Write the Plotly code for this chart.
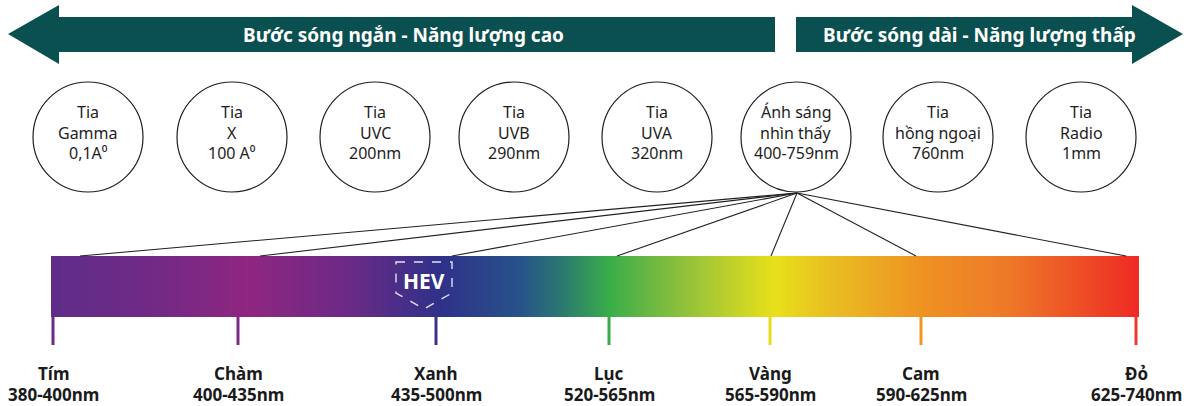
import numpy as np
import plotly.graph_objects as go

# ---------------- data ----------------
arrow_texts = ["Bước sóng ngắn - Năng lượng cao", "Bước sóng dài - Năng lượng thấp"]

ray_line1 = ["Tia", "Tia", "Tia", "Tia", "Tia", "Ánh sáng", "Tia", "Tia"]
ray_line2 = ["Gamma", "X", "UVC", "UVB", "UVA", "nhìn thấy", "hồng ngoại", "Radio"]
ray_line3 = ["0,1A⁰", "100 A⁰", "200nm", "290nm", "320nm", "400-759nm", "760nm", "1mm"]

band_names = ["Tím", "Chàm", "Xanh", "Lục", "Vàng", "Cam", "Đỏ"]
band_ranges = ["380-400nm", "400-435nm", "435-500nm", "520-565nm", "565-590nm", "590-625nm", "625-740nm"]
band_colors = ["#6a2b8b", "#7e2a86", "#3b3189", "#3aad4a", "#e6dc1c", "#f3961f", "#ee3a2c"]

hev_label = "HEV"

# ---------------- layout constants (pixel space) ----------------
W, H = 1191, 406
arrow_color = "#0b5050"
circle_cx = [88, 232, 375, 514, 657, 796, 938, 1081]
circle_cy, circle_r = 137, 55
visible_index = 5
bar_x0, bar_x1, bar_y0, bar_y1 = 51, 1139, 256, 317
band_tick_x = [53, 238, 436, 609, 770, 921, 1136]
fan_end_x = [80, 260, 452, 617, 771, 916, 1126]
grad_stops = [
    (51, "#5e2d89"), (150, "#702a86"), (247, "#8f2680"), (350, "#6b2a86"),
    (440, "#2f3189"), (520, "#27528a"), (563, "#2b7a70"), (610, "#3aae49"),
    (680, "#8dbf3d"), (775, "#e8e01a"), (830, "#e9be22"), (920, "#ef9322"),
    (1010, "#ee7828"), (1139, "#ee2a24"),
]

fig = go.Figure()

# spectrum gradient via heatmap
xs = np.arange(bar_x0, bar_x1 + 1, 1.0)
centers = (xs[:-1] + xs[1:]) / 2
span = bar_x1 - bar_x0
colorscale = [[(p - bar_x0) / span, c] for p, c in grad_stops]
fig.add_trace(go.Heatmap(
    x=xs, y=[bar_y0, bar_y1], z=[centers.tolist()],
    zmin=bar_x0, zmax=bar_x1, colorscale=colorscale,
    showscale=False, hoverinfo="skip",
))

shapes = []
# arrows
shapes.append(dict(type="path", path="M 8 34 L 59 5 L 59 17 L 775 17 L 775 52 L 59 52 L 59 64 Z",
                   fillcolor=arrow_color, line=dict(width=0)))
shapes.append(dict(type="path", path="M 796 17 L 1132 17 L 1132 5 L 1183 34 L 1132 64 L 1132 52 L 796 52 Z",
                   fillcolor=arrow_color, line=dict(width=0)))

# circles
for cx in circle_cx:
    shapes.append(dict(type="circle", x0=cx - circle_r, x1=cx + circle_r,
                       y0=circle_cy - circle_r, y1=circle_cy + circle_r,
                       line=dict(color="#1e1e1e", width=1.2), fillcolor="rgba(0,0,0,0)"))

# fan lines
fan_x, fan_y = circle_cx[visible_index] + 1, circle_cy + circle_r + 1
for ex in fan_end_x:
    shapes.append(dict(type="line", x0=fan_x, y0=fan_y, x1=ex, y1=bar_y0,
                       line=dict(color="#222222", width=1.1)))

# band ticks
for tx, col in zip(band_tick_x, band_colors):
    shapes.append(dict(type="line", x0=tx, x1=tx, y0=bar_y1, y1=345,
                       line=dict(color=col, width=3)))

# HEV badge
shapes.append(dict(type="path", path="M 396 262 L 452 262 L 452 293 L 424 309 L 396 293 Z",
                   line=dict(color="rgba(255,255,255,0.85)", width=1.4, dash="dash"),
                   fillcolor="rgba(0,0,0,0)"))

annotations = []
font_main = "Noto Sans, Open Sans, sans-serif"
annotations.append(dict(x=403, y=35, text=f"<b>{arrow_texts[0]}</b>", showarrow=False,
                        font=dict(family=font_main, size=19, color="white")))
annotations.append(dict(x=979, y=35, text=f"<b>{arrow_texts[1]}</b>", showarrow=False,
                        font=dict(family=font_main, size=19, color="white")))

for cx, a, b, c in zip(circle_cx, ray_line1, ray_line2, ray_line3):
    for dy, t in zip([-25, -4, 16], [a, b, c]):
        annotations.append(dict(x=cx, y=circle_cy + dy, text=t, showarrow=False,
                                font=dict(family=font_main, size=16, color="#1e1e1e")))

for tx, n, r in zip(band_tick_x, band_names, band_ranges):
    annotations.append(dict(x=tx, y=373, text=f"<b>{n}</b>", showarrow=False,
                            font=dict(family=font_main, size=17, color="#1a1a1a")))
    annotations.append(dict(x=tx, y=394, text=f"<b>{r}</b>", showarrow=False,
                            font=dict(family=font_main, size=17, color="#1a1a1a")))

annotations.append(dict(x=424, y=281, text=f"<b>{hev_label}</b>", showarrow=False,
                        font=dict(family=font_main, size=21, color="white")))

fig.update_layout(
    width=W, height=H, margin=dict(l=0, r=0, t=0, b=0),
    paper_bgcolor="white", plot_bgcolor="white",
    xaxis=dict(range=[0, W], visible=False, fixedrange=True),
    yaxis=dict(range=[H, 0], visible=False, fixedrange=True),
    shapes=shapes, annotations=annotations, showlegend=False,
)

fig.write_html("out.html", config={"displayModeBar": False},
               post_script="document.body.style.margin='0';document.body.style.overflow='hidden';")
